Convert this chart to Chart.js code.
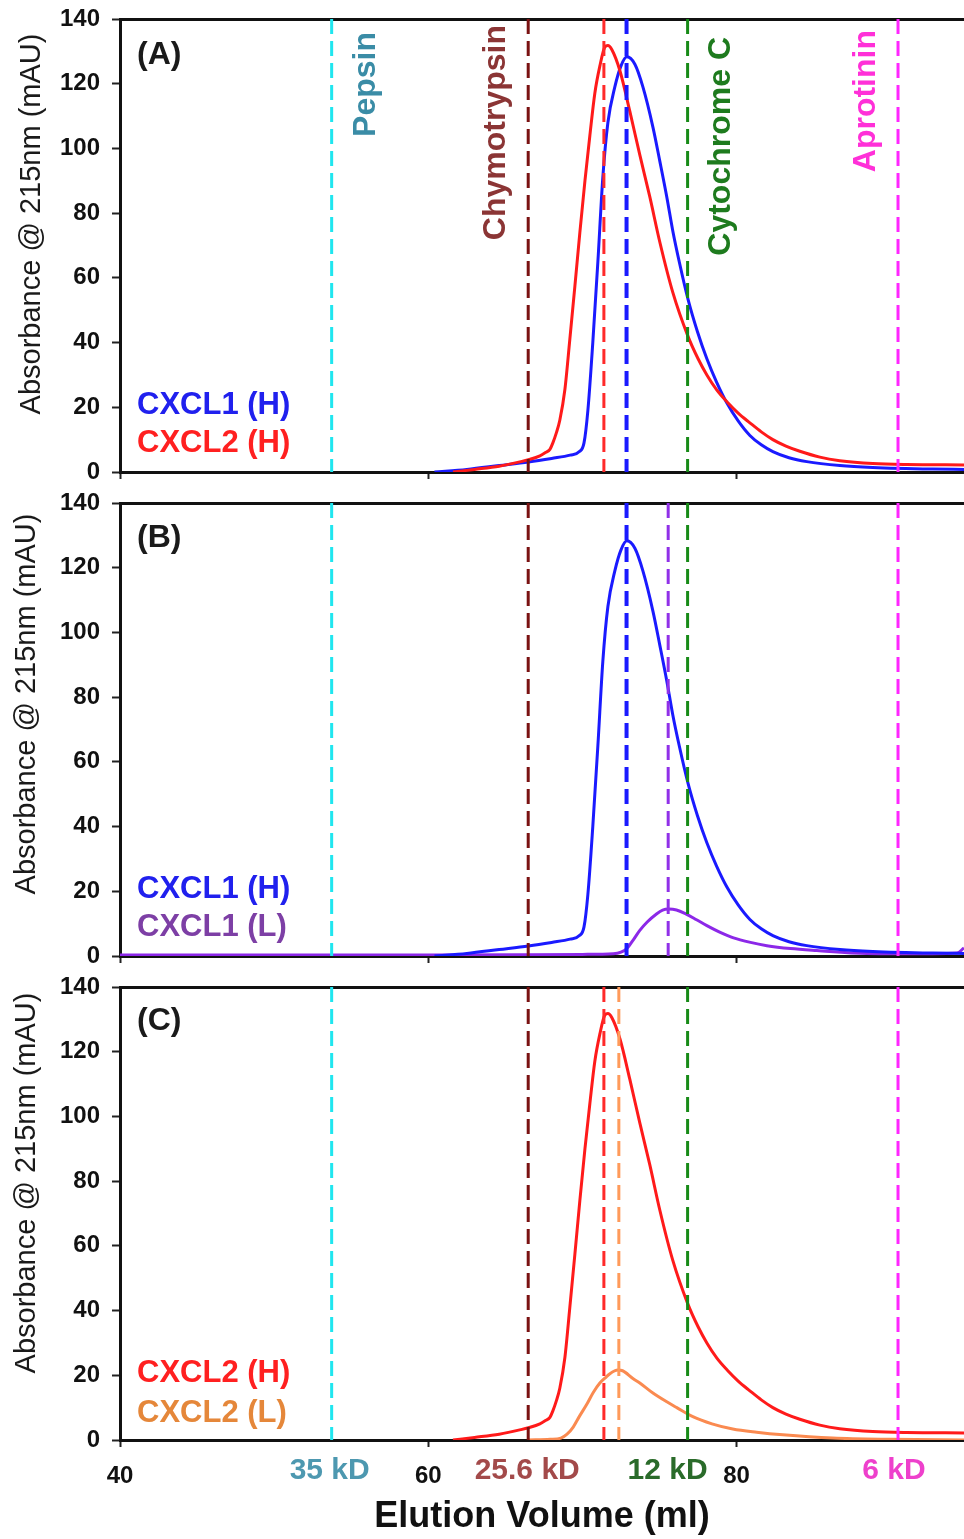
<!DOCTYPE html>
<html>
<head>
<meta charset="utf-8">
<script src="https://cdn.jsdelivr.net/npm/chart.js@4"></script>
<style>
  html, body { margin: 0; padding: 0; background: #fff; }
  #wrap { position: relative; width: 964px; height: 1539px; overflow: hidden; }
  #wrap canvas { position: absolute; left: 0; }
</style>
</head>
<body>
<div id="wrap">
  <canvas id="chartA" width="964" height="484" style="top:0"></canvas>
  <canvas id="chartB" width="964" height="484" style="top:484px"></canvas>
  <canvas id="chartC" width="964" height="571" style="top:968px"></canvas>
</div>
<script>
// axes
const X_MIN = 40;
const X_MAX = 94.75;
const xTickValues = [40, 60, 80];
const yTickValues = [0, 20, 40, 60, 80, 100, 120, 140];

// CXCL1 (H) trace (ml, mAU)
const cxcl1HVol = [60.4, 62.5, 64.6, 66.5, 68.0, 69.2, 69.8, 70.1, 70.35, 70.67, 71.0, 71.32, 71.65, 72.1, 72.5, 72.88, 73.4, 73.92, 74.57, 75.02, 75.47, 75.86, 76.3, 76.84, 77.45, 78.07, 78.7, 79.36, 80.1, 80.86, 81.6, 82.35, 83.4, 84.55, 86.7, 88.83, 92.7, 94.75];
const cxcl1HAbs = [0, 0.8, 2.0, 3.1, 4.2, 5.2, 6.3, 9, 19, 40, 65, 91, 108, 119, 125.5, 128.3, 126, 119, 106.6, 96, 85, 74.5, 64.5, 53.5, 43.5, 35, 27.8, 21.4, 15.8, 11.3, 8.4, 6.3, 4.4, 3.2, 2.0, 1.4, 0.9, 0.8];

// CXCL2 (H) trace
const cxcl2HVol = [61.6, 63.0, 64.6, 66.0, 66.5, 67.24, 67.6, 67.89, 68.08, 68.3, 68.53, 68.86, 69.18, 69.51, 69.83, 70.16, 70.48, 70.8, 71.13, 71.45, 71.65, 71.91, 72.43, 73.07, 73.72, 74.37, 75.02, 75.86, 76.84, 77.5, 78.07, 78.72, 79.43, 80.1, 80.86, 81.6, 82.35, 83.2, 84.1, 85.4, 86.69, 88.83, 91, 94.75];
const cxcl2HAbs = [0, 0.8, 1.8, 3.2, 3.8, 5.0, 6.0, 7.0, 9.0, 12, 16, 25.5, 41, 57.5, 74, 90, 104, 117, 125.5, 131.3, 131.8, 130.5, 124, 111.5, 98, 85, 71, 55.5, 42, 35, 30, 25.3, 21.4, 18.2, 15.2, 12.4, 10, 8, 6.4, 4.6, 3.5, 2.6, 2.3, 2.2];

// CXCL1 (L) trace
const cxcl1LVol = [40, 50, 60, 66.5, 70, 72.0, 72.5, 72.88, 73.3, 73.72, 74.2, 74.8, 75.2, 75.6, 76.1, 76.7, 77.4, 78.07, 78.9, 79.75, 80.9, 81.96, 83.5, 85.2, 88.44, 92.72, 94.3, 94.75];
const cxcl1LAbs = [0.3, 0.3, 0.3, 0.4, 0.5, 0.7, 1.2, 2.3, 5, 7.9, 10.5, 13, 14.2, 14.5, 14.2, 13, 11.2, 9.4, 7.4, 5.7, 4.2, 3.2, 2.3, 1.7, 0.8, 0.7, 0.9, 2.5];

// CXCL2 (L) trace
const cxcl2LVol = [66.5, 67.9, 68.6, 69.0, 69.4, 69.8, 70.3, 70.7, 71.13, 71.5, 71.78, 72.3, 72.6, 73.27, 73.72, 74.57, 75.47, 76.12, 77.16, 78.4, 79.75, 81.3, 83.0, 86.24, 90, 94.75];
const cxcl2LAbs = [0, 0.2, 0.6, 1.8, 4, 7.3, 11.2, 14.7, 17.6, 19.3, 20.5, 21.6, 21.4, 19, 17.6, 14.5, 11.8, 10, 7.2, 5, 3.4, 2.4, 1.6, 0.6, 0.2, 0];

// calibration standards
const standardNames = ['Pepsin', 'Chymotrypsin', 'Cytochrome C', 'Aprotinin'];
const standardMasses = ['35 kD', '25.6 kD', '12 kD', '6 kD'];
const standardVolumes = [53.73, 66.48, 76.82, 90.47];

// peak positions
const peakCxcl1H = 72.86;
const peakCxcl2H = 71.39;
const peakCxcl1L = 75.56;
const peakCxcl2L = 72.36;

const FONT = '"Liberation Sans", Arial, Helvetica, sans-serif';
const standardColors = ['#1fe6ef', '#7a1212', '#178a17', '#ff26ff'];
const standardTextColors = ['#3a8ca6', '#8b3535', '#1e7b1e', '#ff30d8'];
const massTextColors = ['#4d98b0', '#a34a4a', '#2a6b2a', '#ee40cc'];

function points(vol, abs) {
  return vol.map((v, i) => ({ x: v, y: abs[i] }));
}

function curve(vol, abs, color) {
  return {
    data: points(vol, abs),
    borderColor: color,
    borderWidth: 3,
    pointRadius: 0,
    cubicInterpolationMode: 'monotone',
    fill: false,
    order: 2,
  };
}

function marker(volume, color, width) {
  return {
    data: [{ x: volume, y: 140 }, { x: volume, y: 0 }],
    borderColor: color,
    borderWidth: width || 3,
    borderDash: [15, 7],
    pointRadius: 0,
    fill: false,
    order: 1,
  };
}

function standardMarkers() {
  return standardVolumes.map((v, i) => marker(v, standardColors[i]));
}

// free text: panel tags, legends, axis title, standard names
function textPlugin(items) {
  return {
    id: 'panelText',
    afterDatasetsDraw(chart) {
      const ctx = chart.ctx;
      const xs = chart.scales.x;
      ctx.save();
      items.forEach((t) => {
        ctx.font = t.font;
        ctx.fillStyle = t.color;
        ctx.textAlign = t.align || 'left';
        ctx.textBaseline = t.baseline || 'middle';
        const x = t.vol !== undefined ? xs.getPixelForValue(t.vol) + (t.dx || 0) : t.x;
        if (t.rotate) {
          ctx.save();
          ctx.translate(x, t.y);
          ctx.rotate(-Math.PI / 2);
          ctx.fillText(t.text, 0, 0);
          ctx.restore();
        } else {
          ctx.fillText(t.text, x, t.y);
        }
      });
      ctx.restore();
    },
  };
}

function yTitle(x, y) {
  return { text: 'Absorbance @ 215nm (mAU)', x, y, rotate: true, align: 'center', baseline: 'alphabetic', font: '29px ' + FONT, color: '#1a1a1a' };
}
function tag(text, y) {
  return { text, x: 137, y, font: 'bold 32px ' + FONT, color: '#1a1a1a' };
}
function legendText(text, y, color) {
  return { text, x: 137, y, font: 'bold 31px ' + FONT, color };
}

function buildPanel(canvasId, datasets, items, bottomPanel) {
  return new Chart(document.getElementById(canvasId), {
    type: 'line',
    data: { datasets },
    options: {
      responsive: false,
      animation: false,
      events: [],
      layout: { padding: { top: 19, left: 0, right: 0, bottom: 0 }, autoPadding: false },
      plugins: { legend: { display: false }, tooltip: { enabled: false } },
      scales: {
        x: {
          type: 'linear',
          min: X_MIN,
          max: X_MAX,
          afterBuildTicks: (s) => { s.ticks = xTickValues.map((v) => ({ value: v })); },
          afterFit: (s) => {
            s.height = bottomPanel ? 99 : 12;
            s.paddingLeft = 0;
            s.paddingRight = 0;
          },
          grid: { display: true, drawOnChartArea: false, drawTicks: true, tickLength: 7, tickWidth: 2, tickColor: '#222' },
          border: { display: true, color: '#111', width: 3 },
          ticks: {
            display: bottomPanel,
            color: '#111',
            padding: 15,
            maxRotation: 0,
            font: { family: FONT, size: 24, weight: 'bold' },
          },
          title: {
            display: bottomPanel,
            text: 'Elution Volume (ml)',
            color: '#111',
            padding: 0,
            font: { family: FONT, size: 36, weight: 'bold', lineHeight: 1.2 },
          },
        },
        xTop: {
          type: 'linear',
          position: 'top',
          min: X_MIN,
          max: X_MAX,
          afterFit: (s) => { s.height = 0; },
          grid: { display: false },
          ticks: { display: false },
          border: { display: true, color: '#111', width: 3 },
        },
        y: {
          min: 0,
          max: 140,
          afterBuildTicks: (s) => { s.ticks = yTickValues.map((v) => ({ value: v })); },
          afterFit: (s) => {
            s.width = 120;
            s.paddingTop = 0;
            s.paddingBottom = 0;
          },
          grid: { display: true, drawOnChartArea: false, drawTicks: true, tickLength: 8, tickWidth: 2, tickColor: '#222' },
          border: { display: true, color: '#111', width: 3 },
          ticks: {
            color: '#111',
            padding: 12,
            font: { family: FONT, size: 24, weight: 'bold' },
          },
        },
      },
    },
    plugins: [textPlugin(items)],
  });
}

// (A) CXCL1 (H) + CXCL2 (H)
const standardLabelOffsets = [43, -23, 42, -23];
const standardLabelTops = [32, 25, 37, 30];
buildPanel('chartA', [
  ...standardMarkers(),
  marker(peakCxcl2H, '#ff2a2a'),
  marker(peakCxcl1H, '#1a1aff', 4),
  curve(cxcl2HVol, cxcl2HAbs, '#ff1a1a'),
  curve(cxcl1HVol, cxcl1HAbs, '#1a1aff'),
], [
  yTitle(40, 224),
  tag('(A)', 55),
  legendText('CXCL1 (H)', 405, '#2020ee'),
  legendText('CXCL2 (H)', 443, '#ff2020'),
  ...standardNames.map((name, i) => ({
    text: name, vol: standardVolumes[i], dx: standardLabelOffsets[i], y: standardLabelTops[i],
    rotate: true, align: 'right', baseline: 'alphabetic', font: 'bold 32px ' + FONT, color: standardTextColors[i],
  })),
], false);

// (B) CXCL1 (H) + CXCL1 (L)
buildPanel('chartB', [
  ...standardMarkers(),
  marker(peakCxcl1H, '#1a1aff', 4),
  marker(peakCxcl1L, '#9030e8'),
  curve(cxcl1HVol, cxcl1HAbs, '#1a1aff'),
  curve(cxcl1LVol, cxcl1LAbs, '#8c28e8'),
], [
  yTitle(35, 220),
  tag('(B)', 54),
  legendText('CXCL1 (H)', 405, '#2020ee'),
  legendText('CXCL1 (L)', 443, '#7d3fa5'),
], false);

// (C) CXCL2 (H) + CXCL2 (L)
const massLabelOffsets = [-2, -1, -20, -4];
buildPanel('chartC', [
  ...standardMarkers(),
  marker(peakCxcl2H, '#ff2a2a'),
  marker(peakCxcl2L, '#ff9a5a'),
  curve(cxcl2HVol, cxcl2HAbs, '#ff1a1a'),
  curve(cxcl2LVol, cxcl2LAbs, '#fa8a50'),
], [
  yTitle(35, 215),
  tag('(C)', 53),
  legendText('CXCL2 (H)', 405, '#ff2020'),
  legendText('CXCL2 (L)', 445, '#e5873a'),
  ...standardMasses.map((mass, i) => ({
    text: mass, vol: standardVolumes[i], dx: massLabelOffsets[i], y: 503,
    align: 'center', baseline: 'middle', font: 'bold 30px ' + FONT, color: massTextColors[i],
  })),
], true);
</script>
</body>
</html>
